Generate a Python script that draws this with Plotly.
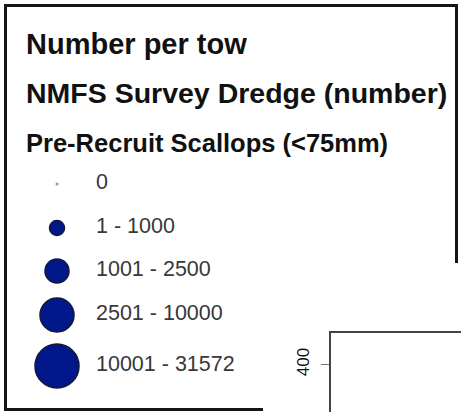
import plotly.graph_objects as go

# ── Legend content ───────────────────────────────────────────────────────────
TITLE_LINES = ["Number per tow", "NMFS Survey Dredge (number)", "Pre-Recruit Scallops (<75mm)"]
CLASS_LABELS = ["0", "1 - 1000", "1001 - 2500", "2501 - 10000", "10001 - 31572"]
Y_TICKS = [400]

# ── Layout / style (pixel canvas, y grows downward) ──────────────────────────
W, H = 461, 412
FONT = "Liberation Sans, Arial, sans-serif"
TITLE_Y = [44, 93, 143]
TITLE_SIZE = [29, 28.5, 25.5]
ROW_Y = [184, 228, 271, 315, 366]
MARK_SIZE = [3, 15, 24, 34, 44]
MARK_FILL = ["#9a9a9a", "#00188a", "#00188a", "#00188a", "#00188a"]
MARK_LINE = [0, 1.5, 1.5, 1.5, 1.5]
NAVY_EDGE = "#141838"

fig = go.Figure()

# legend symbols
fig.add_trace(go.Scatter(
    x=[57] * len(CLASS_LABELS), y=ROW_Y, mode="markers",
    marker=dict(size=MARK_SIZE, color=MARK_FILL, opacity=1,
                line=dict(width=MARK_LINE, color=NAVY_EDGE)),
    hoverinfo="skip", showlegend=False,
))
# legend labels
fig.add_trace(go.Scatter(
    x=[96] * len(CLASS_LABELS), y=ROW_Y, mode="text", text=CLASS_LABELS,
    textposition="middle right",
    textfont=dict(family=FONT, size=21.5, color="#383838"),
    hoverinfo="skip", showlegend=False,
))

# partial neighbouring panel (only its top-left corner is visible)
fig.add_trace(go.Scatter(x=[0], y=[0], xaxis="x2", yaxis="y2", mode="markers",
                         marker=dict(opacity=0), hoverinfo="skip", showlegend=False))

for txt, ty, ts in zip(TITLE_LINES, TITLE_Y, TITLE_SIZE):
    fig.add_annotation(x=24, y=ty, xref="x", yref="y", text=f"<b>{txt}</b>",
                       showarrow=False, xanchor="left", yanchor="middle",
                       font=dict(family=FONT, size=ts, color="#111111"))

# legend frame (its lower-right corner is hidden behind the other panel)
fig.add_shape(type="path", xref="x", yref="y",
              path="M 263,409.5 L 5.5,409.5 L 5.5,5.5 L 456.5,5.5 L 456.5,263",
              line=dict(color="#151515", width=3))

fig.update_layout(
    width=W, height=H, margin=dict(l=0, r=0, t=0, b=0),
    paper_bgcolor="white", plot_bgcolor="rgba(0,0,0,0)",
    xaxis=dict(range=[0, W], visible=False, domain=[0, 1]),
    yaxis=dict(range=[H, 0], visible=False, domain=[0, 1]),
    xaxis2=dict(domain=[331 / W, 1], anchor="y2", side="top", range=[0, 1],
                showline=True, linecolor="#444444", linewidth=1.5,
                showticklabels=False, ticks="", showgrid=False, zeroline=False),
    yaxis2=dict(domain=[0, 79 / H], anchor="x2", range=[340, 440],
                tickvals=Y_TICKS, ticks="outside", ticklen=8, tickcolor="#777777",
                tickangle=-90, showline=True, linecolor="#444444", linewidth=1.5,
                ticklabelstandoff=5,
                tickfont=dict(family=FONT, size=17, color="#111111"),
                showgrid=False, zeroline=False),
)

fig.write_html("out.html", config={"displayModeBar": False},
               post_script="document.body.style.margin='0';document.body.style.overflow='hidden';")
